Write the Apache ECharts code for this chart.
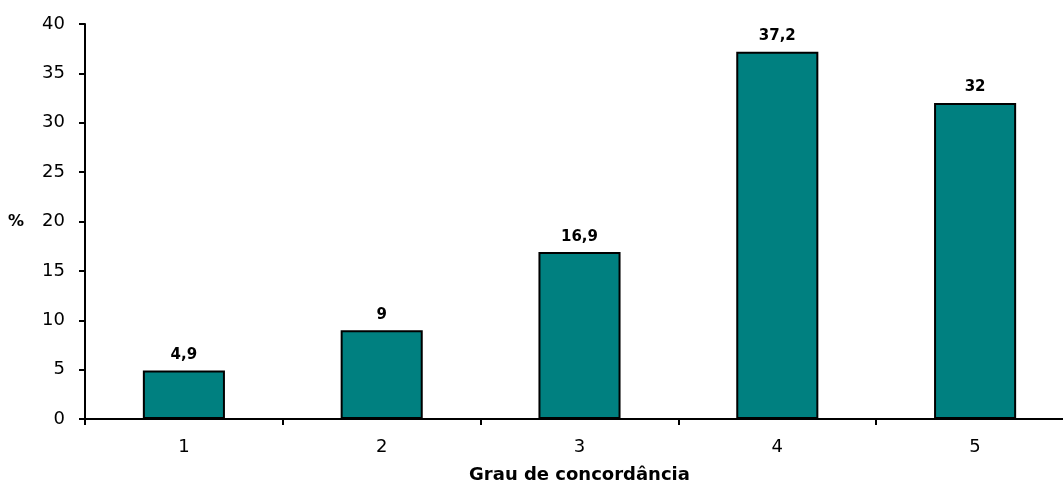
<!DOCTYPE html>
<html>
<head>
<meta charset="utf-8">
<script src="https://cdn.jsdelivr.net/npm/echarts@6/dist/echarts.min.js"></script>
<style>
  html, body { margin: 0; padding: 0; background: #fff; overflow: hidden; }
  #chart { width: 1063px; height: 485px; }
</style>
</head>
<body>
<div id="chart"></div>
<script>
// Agreement levels and share of answers (%)
const categories = ['1', '2', '3', '4', '5'];
const percentages = [4.9, 9, 16.9, 37.2, 32];
const yTicks = [0, 5, 10, 15, 20, 25, 30, 35, 40];

const FONT = '"DejaVu Sans", "Liberation Sans", Arial, sans-serif';

const chart = echarts.init(document.getElementById('chart'), null, { renderer: 'canvas' });

chart.setOption({
  animation: false,
  backgroundColor: '#ffffff',
  grid: {
    left: 85, top: 24, width: 989, height: 395,
    containLabel: false,
    outerBoundsMode: 'none'
  },
  xAxis: {
    type: 'category',
    data: categories,
    boundaryGap: true,
    name: 'Grau de concordância',
    nameLocation: 'middle',
    nameGap: 47,
    nameTextStyle: { fontFamily: FONT, fontSize: 18, fontWeight: 'bold', color: '#000' },
    axisLine: { lineStyle: { color: '#000', width: 2 } },
    axisTick: { show: true, alignWithLabel: false, length: 6, lineStyle: { color: '#000', width: 2 } },
    axisLabel: { fontFamily: FONT, fontSize: 18, color: '#000', margin: 19 },
    splitLine: { show: false }
  },
  yAxis: {
    type: 'value',
    min: yTicks[0],
    max: yTicks[yTicks.length - 1],
    interval: 5,
    name: '%',
    nameLocation: 'middle',
    nameRotate: 0,
    nameGap: 61,
    nameTextStyle: { fontFamily: FONT, fontSize: 16, fontWeight: 'bold', color: '#000' },
    axisLine: { show: true, lineStyle: { color: '#000', width: 2 } },
    axisTick: { show: true, length: 6, lineStyle: { color: '#000', width: 2 } },
    axisLabel: { fontFamily: FONT, fontSize: 18, color: '#000', margin: 20 },
    splitLine: { show: false }
  },
  series: [{
    type: 'bar',
    data: percentages,
    barWidth: '41.5%',
    itemStyle: { color: '#008080', borderColor: '#000', borderWidth: 2 },
    label: {
      show: true,
      position: 'top',
      distance: 8,
      fontFamily: FONT,
      fontSize: 15,
      fontWeight: 'bold',
      color: '#000',
      formatter: p => String(p.value).replace('.', ',')
    }
  }]
});
</script>
</body>
</html>
